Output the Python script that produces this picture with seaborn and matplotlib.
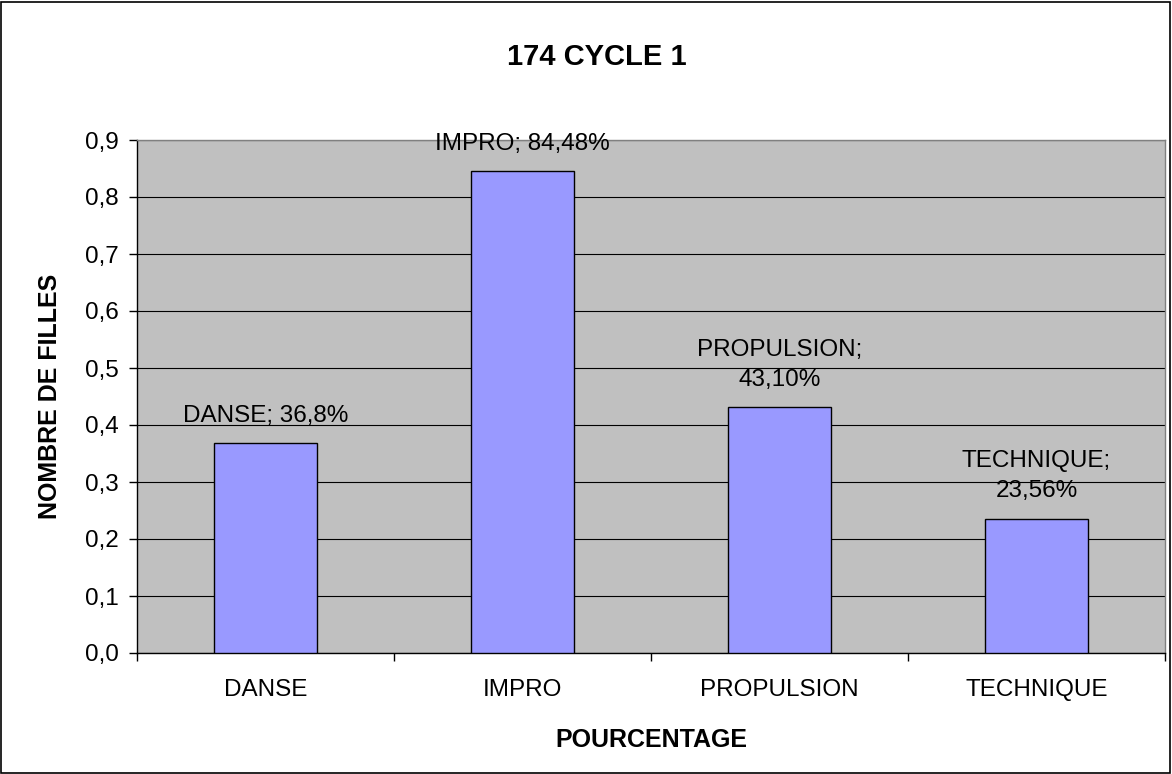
import matplotlib
matplotlib.use("Agg")
import matplotlib.pyplot as plt
import seaborn as sns
import pandas as pd
from matplotlib.patches import Rectangle

# ---------------- données ----------------
categories = ["DANSE", "IMPRO", "PROPULSION", "TECHNIQUE"]
valeurs = [0.368, 0.8448, 0.431, 0.2356]
etiquettes = ["DANSE; 36,8%", "IMPRO; 84,48%", "PROPULSION;\n43,10%", "TECHNIQUE;\n23,56%"]
yticks = [0.0, 0.1, 0.2, 0.3, 0.4, 0.5, 0.6, 0.7, 0.8, 0.9]

df = pd.DataFrame({"cat": categories, "val": valeurs})

sns.set_style("white")
plt.rcParams['font.family'] = ['Liberation Sans', 'DejaVu Sans']
plt.rcParams['text.color'] = 'black'
plt.rcParams['axes.labelcolor'] = 'black'
plt.rcParams['xtick.color'] = 'black'
plt.rcParams['ytick.color'] = 'black'

fs = 17.5

fig = plt.figure(figsize=(11.72, 7.74), dpi=100)
ax = fig.add_axes([137 / 1172, 1 - 653 / 774, (1165 - 137) / 1172, (653 - 140) / 774])
ax.set_facecolor("#C0C0C0")

sns.barplot(data=df, x="cat", y="val", color="#9999FF", saturation=1,
            width=0.4, edgecolor="black", linewidth=1, ax=ax, zorder=3)

ax.set_ylim(0, 0.9)
ax.set_xlim(-0.5, 3.5)
ax.set_yticks(yticks)
ax.set_yticklabels([f"{t:.1f}".replace(".", ",") for t in yticks], fontsize=fs)
ax.set_xticks([0, 1, 2, 3])
ax.set_xticklabels(categories, fontsize=fs)
ax.tick_params(axis="x", length=0, pad=19)
ax.tick_params(axis="y", length=6, width=1, direction="out", left=True, pad=7)
# petites marques entre catégories
ax.set_xticks([-0.5, 0.5, 1.5, 2.5, 3.5], minor=True)
ax.tick_params(axis="x", which="minor", length=6, width=1, direction="out", bottom=True)

ax.grid(axis="y", color="black", linewidth=0.8, zorder=0)
ax.set_axisbelow(True)
for s in ax.spines.values():
    s.set_color("#808080")
    s.set_linewidth(1)
ax.spines["left"].set_color("black")
ax.spines["bottom"].set_color("black")

for i, (v, lab) in enumerate(zip(valeurs, etiquettes)):
    ax.annotate(lab, (i, v), xytext=(0, 12), textcoords="offset points",
                ha="center", va="bottom", fontsize=fs, linespacing=1.45, zorder=4)

ax.set_xlabel("POURCENTAGE", fontsize=18, fontweight="bold", labelpad=19)
ax.set_ylabel("NOMBRE DE FILLES", fontsize=18, fontweight="bold")
ax.yaxis.set_label_coords(-0.073, 0.5)
fig.text(597 / 1172, 1 - 57 / 774, "174 CYCLE 1", ha="center", va="center",
         fontsize=21, fontweight="bold")

# cadre extérieur
fig.patches.append(Rectangle((0.001, 0.001), 0.997, 0.997, transform=fig.transFigure,
                             fill=False, edgecolor="black", linewidth=1.2))

fig.savefig("out.png", dpi=100)
